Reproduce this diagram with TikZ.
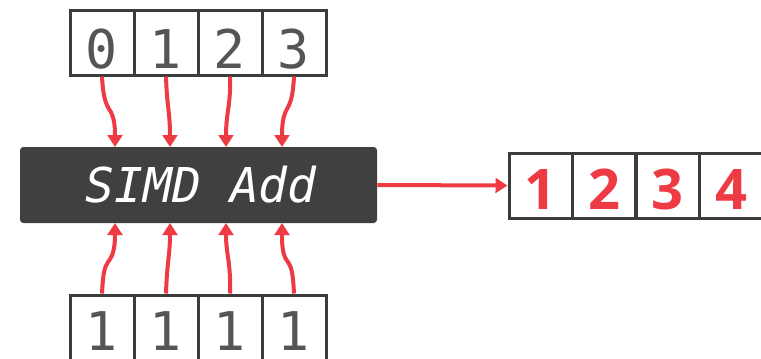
\documentclass[tikz,border=0pt]{standalone}
\usepackage{fontspec}
\setmainfont{Open Sans}
\setmonofont{DejaVu Sans Mono}
\usetikzlibrary{arrows.meta}
\definecolor{arrowred}{HTML}{EE3A43}
\definecolor{cellgray}{HTML}{3C3C3C}
\definecolor{digitgray}{HTML}{555555}
\definecolor{boxfill}{HTML}{404040}
\tikzset{
  cell/.style={draw=cellgray, line width=2.25pt, minimum width=48pt, minimum height=48.75pt, inner sep=0pt},
  rcell/.style={cell, minimum width=47.6pt},
  digit/.style={anchor=base, inner sep=0pt, text=digitgray, font=\ttfamily\fontsize{40}{40}\selectfont},
  rdigit/.style={anchor=base, inner sep=0pt, text=arrowred, font=\bfseries\fontsize{42}{42}\selectfont},
  opbox/.style={fill=boxfill, rounded corners=2.5pt, minimum width=267.75pt, minimum height=57pt, inner sep=0pt,
    text=white, font=\ttfamily\itshape\fontsize{36}{36}\selectfont},
  flow/.style={draw=arrowred, line width=3pt, -{Triangle[width=11pt,length=9pt]}},
}
\begin{document}
\begin{tikzpicture}[x=0.75pt, y=-0.75pt]
  \clip (0,0) rectangle (761,358);
  \useasboundingbox (0,0) rectangle (761,358);
  \fill[white] (0,0) rectangle (761,358);

  % input vector (top)
  \foreach \v [count=\i from 0] in {0,1,2,3} {
    \node[cell] (t\i) at (102+64*\i, 42.5) {};
    \node[digit] at ([yshift=6pt]t\i.south) {\v};
  }
  % input vector (bottom)
  \foreach \i in {0,1,2,3} {
    \node[cell] (b\i) at (102+64*\i, 327.5) {};
    \node[digit] at ([yshift=-42.75pt]b\i.north) {1};
  }
  % result vector
  \foreach \v [count=\i from 0] in {1,2,3,4} {
    \node[rcell] (r\i) at (540.75+63.5*\i, 185.5) {};
    \node[rdigit] at ([yshift=-43.5pt]r\i.north) {\v};
  }

  % SIMD unit
  \node[opbox] (simd) at (198.5,185) {\hspace{4pt}SIMD Add};

  % lane entry points on the unit
  \coordinate (a0) at (115,147); \coordinate (a1) at (170,147);
  \coordinate (a2) at (226,147); \coordinate (a3) at (282,147);
  \coordinate (c0) at (115,223); \coordinate (c1) at (170,223);
  \coordinate (c2) at (226,223); \coordinate (c3) at (282,223);

  % lanes from the top vector
  \draw[flow] (t0.south) .. controls (103,95) and (105,102) .. (109,109) .. controls (114,116) and (115,125) .. (a0);
  \draw[flow] (t1.south) .. controls (167,108) and (170,112) .. (a1);
  \draw[flow] (t2.south) .. controls (231,105) and (226,112) .. (a2);
  \draw[flow] (t3.south) .. controls (293,95) and (291,102) .. (287,109) .. controls (283,116) and (282,125) .. (a3);

  % lanes from the bottom vector
  \draw[flow] (b0.north) .. controls (103,275) and (104,268) .. (108,262) .. controls (113,256) and (115,248) .. (c0);
  \draw[flow] (b1.north) .. controls (167,262) and (170,255) .. (c1);
  \draw[flow] (b2.north) .. controls (231,262) and (226,255) .. (c2);
  \draw[flow] (b3.north) .. controls (293,275) and (292,268) .. (288,262) .. controls (283,256) and (282,248) .. (c3);

  % result
  \draw[flow] (simd.east) -- (r0.west);
\end{tikzpicture}
\end{document}
